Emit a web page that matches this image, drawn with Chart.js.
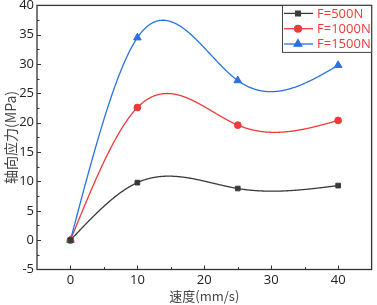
<!DOCTYPE html>
<html>
<head>
<meta charset="utf-8">
<script src="https://cdn.jsdelivr.net/npm/chart.js@4"></script>
<style>
  html, body { margin: 0; padding: 0; background: #fff; }
  #wrap { width: 377px; height: 305px; position: relative; }
</style>
</head>
<body>
<div id="wrap"><canvas id="chart"></canvas></div>
<script>
(function(){
  'use strict';

  // data
  const speeds = [0, 10, 25, 40];
  const stress500 = [0, 9.8, 8.8, 9.3];
  const stress1000 = [0, 22.6, 19.6, 20.4];
  const stress1500 = [0, 34.5, 27.2, 29.8];
  const seriesLabels = ['F=500N', 'F=1000N', 'F=1500N'];
  const xTicks = [0, 10, 20, 30, 40];
  const yTicks = [-5, 0, 5, 10, 15, 20, 25, 30, 35, 40];

  const colors = ['#3a3a3a', '#f03a3a', '#2a72e0'];
  const markers = ['rect', 'circle', 'triangle'];
  const markerSize = [3.3, 3.4, 4.4];
  const tickFont = { family: '"Open Sans", "DejaVu Sans", sans-serif', size: 13 };
  const cjkFont = '"Noto Sans CJK SC", "Open Sans", sans-serif';

  function pairs(ys) {
    return speeds.map((x, i) => ({ x: x, y: ys[i] }));
  }

  // natural cubic spline through the data points, evaluated when drawing
  function naturalSpline(xs, ys) {
    const n = xs.length;
    const h = [], M = new Array(n).fill(0);
    for (let i = 0; i < n - 1; i++) h.push(xs[i + 1] - xs[i]);
    const a = [], b = [], c = [], d = [];
    for (let i = 1; i < n - 1; i++) {
      a.push(h[i - 1]);
      b.push(2 * (h[i - 1] + h[i]));
      c.push(h[i]);
      d.push(6 * ((ys[i + 1] - ys[i]) / h[i] - (ys[i] - ys[i - 1]) / h[i - 1]));
    }
    const m = b.length;
    for (let i = 1; i < m; i++) {
      const w = a[i] / b[i - 1];
      b[i] -= w * c[i - 1];
      d[i] -= w * d[i - 1];
    }
    if (m > 0) {
      M[m] = d[m - 1] / b[m - 1];
      for (let i = m - 2; i >= 0; i--) M[i + 1] = (d[i] - c[i] * M[i + 2]) / b[i];
    }
    return function(x) {
      let k = 0;
      while (k < n - 2 && x > xs[k + 1]) k++;
      const hk = h[k], t1 = xs[k + 1] - x, t0 = x - xs[k];
      return M[k] * t1 * t1 * t1 / (6 * hk) + M[k + 1] * t0 * t0 * t0 / (6 * hk)
        + (ys[k] / hk - M[k] * hk / 6) * t1 + (ys[k + 1] / hk - M[k + 1] * hk / 6) * t0;
    };
  }

  const splinePlugin = {
    id: 'splineLines',
    beforeDatasetsDraw(chart) {
      const { ctx, chartArea, scales } = chart;
      ctx.save();
      ctx.beginPath();
      ctx.rect(chartArea.left, chartArea.top, chartArea.right - chartArea.left, chartArea.bottom - chartArea.top);
      ctx.clip();
      chart.data.datasets.forEach((ds) => {
        const xs = ds.data.map(p => p.x), ys = ds.data.map(p => p.y);
        const f = naturalSpline(xs, ys);
        const x0 = xs[0], x1 = xs[xs.length - 1];
        ctx.beginPath();
        for (let s = 0; s <= 400; s++) {
          const x = x0 + (x1 - x0) * s / 400;
          const px = scales.x.getPixelForValue(x), py = scales.y.getPixelForValue(f(x));
          if (s === 0) ctx.moveTo(px, py); else ctx.lineTo(px, py);
        }
        ctx.strokeStyle = ds.borderColor;
        ctx.lineWidth = 1.3;
        ctx.stroke();
      });
      ctx.restore();
    }
  };

  // frame, inward ticks and the boxed legend
  const framePlugin = {
    id: 'frame',
    afterDraw(chart) {
      const { ctx, chartArea: ca, scales } = chart;
      ctx.save();
      ctx.strokeStyle = '#333';
      ctx.lineWidth = 1.3;
      ctx.strokeRect(ca.left, ca.top, ca.right - ca.left, ca.bottom - ca.top);
      ctx.lineWidth = 1;
      ctx.beginPath();
      for (let v = -5; v <= 45; v += 5) {
        const px = Math.round(scales.x.getPixelForValue(v)) + 0.5;
        const len = v % 10 === 0 ? 4 : 2.5;
        if (px <= ca.left + 1 || px >= ca.right - 1) continue;
        ctx.moveTo(px, ca.bottom); ctx.lineTo(px, ca.bottom - len);
      }
      for (let v = -5; v <= 40; v += 2.5) {
        const py = Math.round(scales.y.getPixelForValue(v)) + 0.5;
        const len = v % 5 === 0 ? 4 : 2.5;
        if (py <= ca.top + 1 || py >= ca.bottom - 1) continue;
        ctx.moveTo(ca.left, py); ctx.lineTo(ca.left + len, py);
      }
      ctx.stroke();

      // legend
      const lx = 282, ly = ca.top, lw = ca.right - 282, lh = 47;
      ctx.fillStyle = '#fff';
      ctx.fillRect(lx, ly, lw, lh);
      ctx.strokeStyle = '#444';
      ctx.lineWidth = 1;
      ctx.strokeRect(lx + 0.5, ly, lw - 0.5, lh);
      ctx.font = '13px ' + tickFont.family;
      ctx.textBaseline = 'middle';
      chart.data.datasets.forEach((ds, i) => {
        const y = ly + 8 + i * 15.3;
        ctx.strokeStyle = ds.borderColor;
        ctx.lineWidth = 1.3;
        ctx.beginPath();
        ctx.moveTo(lx + 2, y); ctx.lineTo(lx + 31, y);
        ctx.stroke();
        ctx.fillStyle = ds.pointBackgroundColor;
        ctx.strokeStyle = ds.pointBackgroundColor;
        Chart.helpers.drawPoint(ctx, { pointStyle: ds.pointStyle, radius: ds.pointRadius, rotation: 0, borderWidth: 1 }, lx + 16, y);
        ctx.fillStyle = '#f03a3a';
        ctx.fillText(ds.label, lx + 35, y + 0.5);
      });
      ctx.restore();
    }
  };

  const seriesValues = [stress500, stress1000, stress1500];
  const datasets = seriesValues.map((vals, i) => ({
    label: seriesLabels[i],
    data: pairs(vals),
    showLine: false,
    borderColor: colors[i],
    pointBackgroundColor: colors[i],
    pointBorderColor: colors[i],
    pointStyle: markers[i],
    pointRadius: markerSize[i],
    pointBorderWidth: 1
  }));

  const ctx = document.getElementById('chart').getContext('2d');
  new Chart(ctx, {
    type: 'line',
    data: { datasets: datasets },
    options: {
      responsive: true,
      maintainAspectRatio: false,
      animation: false,
      layout: { padding: { top: 5, right: 2, left: 0, bottom: 0 } },
      plugins: { legend: { display: false }, tooltip: { enabled: false } },
      scales: {
        x: {
          type: 'linear',
          min: -5, max: 45,
          afterBuildTicks: (s) => { s.ticks = xTicks.map(v => ({ value: v })); },
          afterFit: (s) => { s.height = 35.5; s.paddingLeft = 0; s.paddingRight = 0; },
          grid: { display: false, drawTicks: false },
          border: { display: false },
          ticks: { color: '#222', font: tickFont, padding: 3, maxRotation: 0 },
          title: { display: true, text: '速度(mm/s)', color: '#444', font: { family: cjkFont, size: 13 }, padding: { top: 0, bottom: 1 } }
        },
        y: {
          min: -5, max: 40,
          afterBuildTicks: (s) => { s.ticks = yTicks.map(v => ({ value: v })); },
          afterFit: (s) => { s.width = 37; s.paddingTop = 0; s.paddingBottom = 0; },
          grid: { display: false, drawTicks: false },
          border: { display: false },
          ticks: { color: '#222', font: tickFont, padding: 3 },
          title: { display: true, text: '轴向应力(MPa)', color: '#444', font: { family: cjkFont, size: 14 }, padding: { top: 2, bottom: 0 } }
        }
      }
    },
    plugins: [splinePlugin, framePlugin]
  });
})();
</script>
</body>
</html>
